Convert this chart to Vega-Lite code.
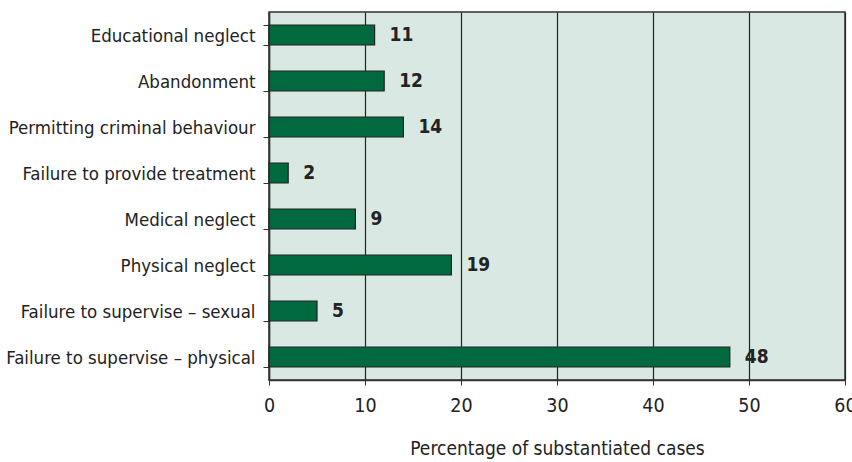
{
  "$schema": "https://vega.github.io/schema/vega-lite/v6.json",
  "width": 576,
  "height": 368,
  "autosize": {"type": "none"},
  "padding": {"left": 269, "top": 12, "right": 7, "bottom": 82},
  "background": "white",
  "config": {
    "font": "DejaVu Sans Condensed",
    "view": {"stroke": "#333333", "strokeWidth": 1.5, "fill": "#d9e8e2"}
  },
  "data": {
    "values": [
      {"category": "Educational neglect", "value": 11},
      {"category": "Abandonment", "value": 12},
      {"category": "Permitting criminal behaviour", "value": 14},
      {"category": "Failure to provide treatment", "value": 2},
      {"category": "Medical neglect", "value": 9},
      {"category": "Physical neglect", "value": 19},
      {"category": "Failure to supervise – sexual", "value": 5},
      {"category": "Failure to supervise – physical", "value": 48}
    ]
  },
  "encoding": {
    "y": {
      "field": "category",
      "type": "nominal",
      "sort": null,
      "scale": {"paddingInner": 0.565, "paddingOuter": 0.2825},
      "axis": {
        "title": null,
        "labelFont": "DejaVu Sans Condensed",
        "labelFontSize": 18.5,
        "labelColor": "#222222",
        "labelPadding": 8,
        "tickBand": "extent",
        "tickSize": 6,
        "tickColor": "#333333",
        "domainColor": "#333333",
        "domainWidth": 1.5,
        "labelLimit": 400
      }
    },
    "x": {
      "field": "value",
      "type": "quantitative",
      "scale": {"domain": [0, 60], "nice": false},
      "axis": {
        "title": "Percentage of substantiated cases",
        "titleFont": "DejaVu Sans Condensed",
        "titleFontSize": 19,
        "titleFontWeight": "normal",
        "titleColor": "#222222",
        "titlePadding": 25,
        "values": [0, 10, 20, 30, 40, 50, 60],
        "labelFont": "DejaVu Sans Condensed",
        "labelFontSize": 19.5,
        "labelColor": "#222222",
        "labelPadding": 11,
        "tickSize": 5,
        "tickColor": "#333333",
        "domainColor": "#333333",
        "domainWidth": 1.5,
        "grid": true,
        "gridColor": "#222222",
        "gridWidth": 1.2,
        "labelFlush": false
      }
    }
  },
  "layer": [
    {
      "mark": {"type": "bar", "fill": "#006a3e", "stroke": "#222222", "strokeWidth": 1.2}
    },
    {
      "mark": {"type": "text", "align": "left", "baseline": "middle", "dx": 15, "fontSize": 19, "fontWeight": "bold", "font": "DejaVu Sans Condensed", "color": "#222222"},
      "encoding": {"text": {"field": "value", "type": "quantitative"}}
    }
  ]
}
